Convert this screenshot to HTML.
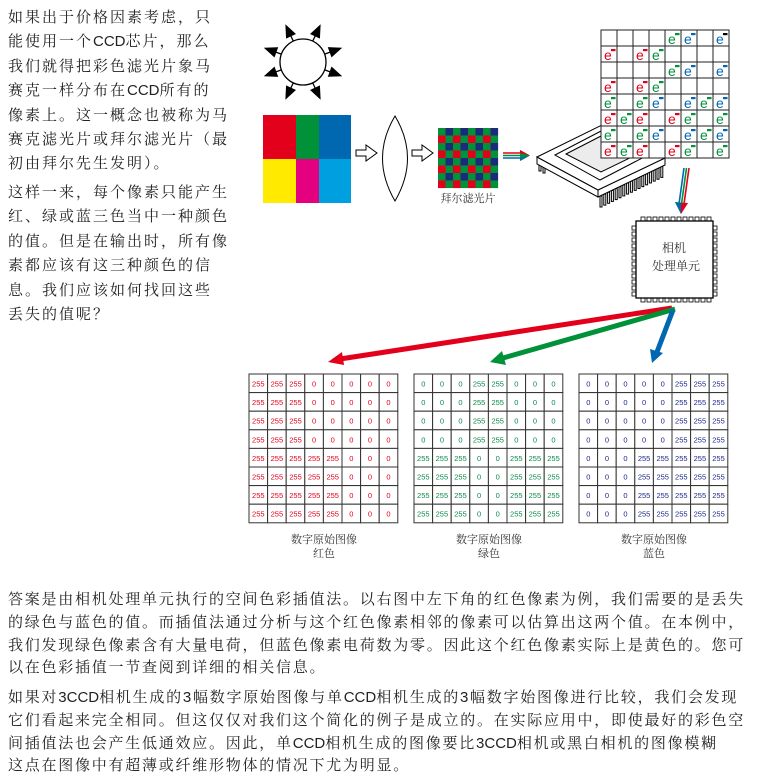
<!DOCTYPE html>
<html><head><meta charset="utf-8">
<style>
html,body{margin:0;padding:0;background:#fff;}
body{width:757px;height:784px;position:relative;overflow:hidden;}
.t{position:absolute;left:8px;font-family:"Liberation Sans","Noto Serif CJK SC",serif;color:#222;white-space:nowrap;}
.l{font-size:15px;line-height:24.4px;letter-spacing:2px;}
.b{font-size:15px;line-height:22.8px;letter-spacing:1.75px;}
.c{letter-spacing:0;}
svg{position:absolute;left:0;top:0;}
</style></head><body>
<div class="t l" style="top:6px">如果出于价格因素考虑，只<br>能使用一个<span class="c">CCD</span>芯片，那么<br>我们就得把彩色滤光片象马<br>赛克一样分布在<span class="c">CCD</span>所有的<br>像素上。这一概念也被称为马<br>赛克滤光片或拜尔滤光片（最<br>初由拜尔先生发明）。</div>
<div class="t l" style="top:181px">这样一来，每个像素只能产生<br>红、绿或蓝三色当中一种颜色<br>的值。但是在输出时，所有像<br>素都应该有这三种颜色的信<br>息。我们应该如何找回这些<br>丢失的值呢？</div>
<div class="t b" style="top:589px">答案是由相机处理单元执行的空间色彩插值法。以右图中左下角的红色像素为例，我们需要的是丢失<br>的绿色与蓝色的值。而插值法通过分析与这个红色像素相邻的像素可以估算出这两个值。在本例中，<br>我们发现绿色像素含有大量电荷，但蓝色像素电荷数为零。因此这个红色像素实际上是黄色的。您可<br>以在色彩插值一节查阅到详细的相关信息。</div>
<div class="t b" style="top:687px">如果对<span class="c">3CCD</span>相机生成的3幅数字原始图像与单<span class="c">CCD</span>相机生成的3幅数字始图像进行比较，我们会发现<br>它们看起来完全相同。但这仅仅对我们这个简化的例子是成立的。在实际应用中，即使最好的彩色空<br>间插值法也会产生低通效应。因此，单<span class="c">CCD</span>相机生成的图像要比<span class="c">3CCD</span>相机或黑白相机的图像模糊<br>这点在图像中有超薄或纤维形物体的情况下尤为明显。</div>
<svg width="757" height="784" viewBox="0 0 757 784" id="s">
<circle cx="303" cy="62" r="23" fill="#fff" stroke="#000" stroke-width="1.3"/>
<g id="rays" stroke="#000" stroke-width="1.3"></g>
<rect x="263" y="115" width="33" height="44" fill="#e2001a"/>
<rect x="296" y="115" width="23" height="44" fill="#009139"/>
<rect x="319" y="115" width="32" height="44" fill="#0068b0"/>
<rect x="263" y="159" width="33" height="44" fill="#ffea00"/>
<rect x="296" y="159" width="23" height="44" fill="#e4007f"/>
<rect x="319" y="159" width="32" height="44" fill="#00a0e0"/>
<path d="M356,150 h10 v-5 l11,8 l-11,8 v-5 h-10z" fill="#fff" stroke="#000" stroke-width="1"/>
<path d="M412,150 h10 v-5 l11,8 l-11,8 v-5 h-10z" fill="#fff" stroke="#000" stroke-width="1"/>
<path d="M395,116 Q370,158 395,201 Q420,158 395,116z" fill="#fff" stroke="#000" stroke-width="1"/>
<g id="bayer"></g>
<text x="468" y="202" font-size="11" text-anchor="middle" font-family="Noto Serif CJK SC,serif" fill="#333">拜尔滤光片</text>
<g stroke-width="1.6"><line x1="503" y1="153" x2="522" y2="153" stroke="#e2001a"/><line x1="503" y1="155.5" x2="522" y2="155.5" stroke="#009139"/><line x1="503" y1="158" x2="522" y2="158" stroke="#0068b0"/></g>
<path d="M520,150 L530,155.5 L520,161z" fill="#009139"/><path d="M520,150 L530,155.5 L520,153z" fill="#e2001a"/><path d="M520,158 L530,155.5 L520,161z" fill="#0068b0"/>
<g stroke="#000" stroke-width="1" fill="#fff">
<g id="pins"></g>
<path d="M537,157 L598,190 L598,197 L537,164z"/>
<path d="M598,190 L665,158 L665,165 L598,197z"/>
<path d="M537,157 L602,125 L665,158 L598,190z"/>
<path d="M555,155 L603,130 L648,155 L600,180z" fill="#fff"/>
<path d="M566,154 L603,135 L638,154 L601,172z" fill="#ececec"/>
</g>
<g id="eg"></g>
<g stroke-width="1.6"><line x1="689" y1="168" x2="684" y2="204" stroke="#e2001a"/><line x1="686.5" y1="168" x2="681.5" y2="204" stroke="#009139"/><line x1="684" y1="168" x2="679" y2="204" stroke="#0068b0"/></g>
<path d="M675,202 L681,214 L688,203z" fill="#009139"/><path d="M681,203 L681,214 L688,203z" fill="#e2001a"/><path d="M675,202 L681,214 L681,203z" fill="#0068b0"/>
<g id="proc" fill="#fff" stroke="#000" stroke-width="0.8"></g>
<rect x="636" y="221" width="77" height="77" fill="#fff" stroke="#000" stroke-width="1.3"/>
<text x="674" y="252" font-size="12" text-anchor="middle" font-family="Noto Serif CJK SC,serif" fill="#333">相机</text>
<text x="676" y="270" font-size="12" text-anchor="middle" font-family="Noto Serif CJK SC,serif" fill="#333">处理单元</text>
<line x1="672" y1="308" x2="340" y2="359" stroke="#e2001a" stroke-width="5"/>
<path d="M328,362 L342,352 L344,365z" fill="#e2001a"/>
<line x1="675" y1="309" x2="503" y2="358" stroke="#009139" stroke-width="5"/>
<path d="M490,362 L502,351 L506,365z" fill="#009139"/>
<line x1="673" y1="310" x2="657" y2="352" stroke="#0068b0" stroke-width="5"/>
<path d="M652,363 L650,349 L663,353z" fill="#0068b0"/>
<g id="tables"></g>
<g font-family="Noto Serif CJK SC,serif" font-size="11" fill="#333" text-anchor="middle">
<text x="324" y="543">数字原始图像</text><text x="324" y="557">红色</text>
<text x="489" y="543">数字原始图像</text><text x="489" y="557">绿色</text>
<text x="654" y="543">数字原始图像</text><text x="654" y="557">蓝色</text>
</g>
</svg>
<script>
var NS="http://www.w3.org/2000/svg";
function el(p,t,a,txt){var e=document.createElementNS(NS,t);for(var k in a)e.setAttribute(k,a[k]);if(txt!=null)e.textContent=txt;p.appendChild(e);return e;}
var rays=document.getElementById('rays');
[-65,-115,-160,160,115,65,20,-20].forEach(function(d){var r=d*Math.PI/180;var cx=303,cy=62;
var x1=cx+23*Math.cos(r),y1=cy+23*Math.sin(r),x2=cx+29*Math.cos(r),y2=cy+29*Math.sin(r),x3=cx+40*Math.cos(r),y3=cy+40*Math.sin(r);
el(rays,'line',{x1:x1,y1:y1,x2:x2,y2:y2});
var px=-Math.sin(r)*4.5,py=Math.cos(r)*4.5;
el(rays,'path',{d:'M'+(x2+px)+','+(y2+py)+' L'+x3+','+y3+' L'+(x2-px)+','+(y2-py)+'z',fill:'#000'});});
var by=document.getElementById('bayer');
for(var i=0;i<8;i++)for(var j=0;j<8;j++){var c;if(i%2==0)c=(j%2==0)?'#009139':'#1d2a7a';else c=(j%2==0)?'#e2001a':'#009139';
el(by,'rect',{x:438+j*7.5,y:128+i*7.5,width:7.6,height:7.6,fill:c});}
var pins=document.getElementById('pins');
for(var k=0;k<17;k++){var x=600+k*3.8,y=196-k*1.85;el(pins,'rect',{x:x,y:y,width:2,height:11});}
for(var k=0;k<2;k++){el(pins,'rect',{x:539+k*4,y:163+k*2,width:2,height:8});}
var eg=document.getElementById('eg');
var G=["....gb.b","r.rg....","....gb.b","r.rg....","g.gb.bgb","rgr.rg.g","g.gb.bgb","rgr.rg.g"];
var col={r:'#e2001a',g:'#009139',b:'#0068b0'};
el(eg,'rect',{x:601,y:30,width:128,height:128,fill:'#fff',stroke:'#222','stroke-width':1});
for(var i=1;i<8;i++){el(eg,'line',{x1:601+i*16,y1:30,x2:601+i*16,y2:158,stroke:'#222'});el(eg,'line',{x1:601,y1:30+i*16,x2:729,y2:30+i*16,stroke:'#222'});}
for(var i=0;i<8;i++)for(var j=0;j<8;j++){var ch=G[i][j];if(ch=='.')continue;
var x=601+j*16,y=30+i*16;
el(eg,'text',{x:x+3,y:y+14,'font-size':14,'font-family':'Liberation Sans,sans-serif',fill:col[ch]},'e');
el(eg,'rect',{x:x+10,y:y+3,width:4.5,height:2.2,fill:(i==0&&j==7)?'#000':col[ch]});}
var pr=document.getElementById('proc');
for(var k=0;k<12;k++){el(pr,'rect',{x:641+k*6,y:217,width:4,height:4});el(pr,'rect',{x:641+k*6,y:298,width:4,height:4});}
for(var k=0;k<12;k++){el(pr,'rect',{x:632,y:226+k*6,width:4,height:4});el(pr,'rect',{x:713,y:226+k*6,width:4,height:4});}
var tb=document.getElementById('tables');
var T=[{x:249,c:'#e2001a',top:[255,255,255,0,0,0,0,0],bot:[255,255,255,255,255,0,0,0]},
{x:414,c:'#0a8a4a',top:[0,0,0,255,255,0,0,0],bot:[255,255,255,0,0,255,255,255]},
{x:579,c:'#1d2a8a',top:[0,0,0,0,0,255,255,255],bot:[0,0,0,255,255,255,255,255]}];
var cs=18.6;
T.forEach(function(t){
for(var i=0;i<8;i++)for(var j=0;j<8;j++){var v=(i<4?t.top:t.bot)[j];
el(tb,'rect',{x:t.x+j*cs,y:374+i*cs,width:cs,height:cs,fill:'#fff',stroke:'#333','stroke-width':1});
el(tb,'text',{x:t.x+j*cs+cs/2,y:374+i*cs+12.5,'font-size':7.5,'text-anchor':'middle','font-family':'Liberation Sans,sans-serif',fill:t.c},String(v));}
});
</script>
</body></html>
